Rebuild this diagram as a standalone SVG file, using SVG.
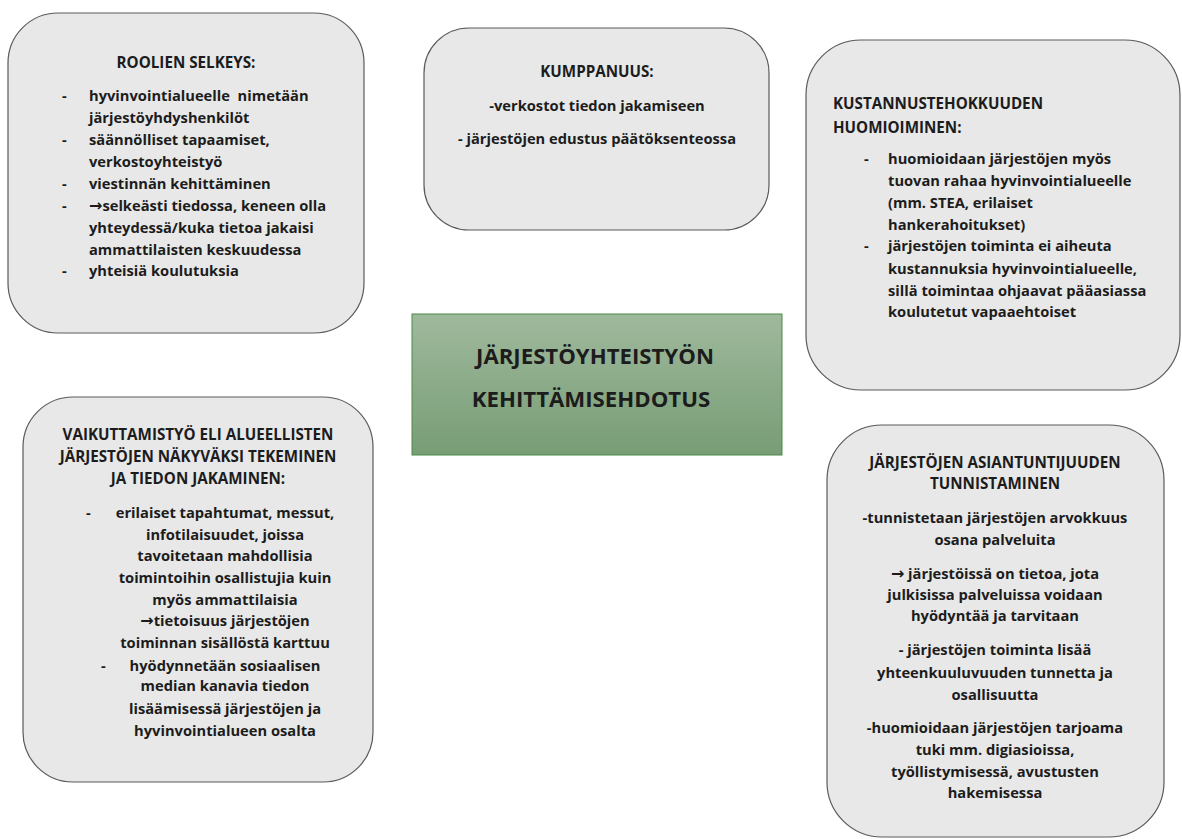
<svg xmlns="http://www.w3.org/2000/svg" width="1182" height="839" viewBox="0 0 1182 839">
<style>
.box{fill:#e8e8e8;stroke:#5a5a5a;stroke-width:1.2}
.t{font-family:"Open Sans","Liberation Sans",Arial,sans-serif;font-weight:bold;font-size:14.7px;fill:#1c1c1c}
.k{font-size:15.2px}
.c{text-anchor:middle}
.h{font-size:22.2px}
.a{font-family:"DejaVu Sans",sans-serif;font-size:16px}
</style>
<defs>
<linearGradient id="g" x1="0" y1="0" x2="0" y2="1">
<stop offset="0" stop-color="#9fb99c"/>
<stop offset="1" stop-color="#789d75"/>
</linearGradient>
</defs>
<rect width="1182" height="839" fill="#ffffff"/>
<g id="roolien">
<rect class="box" x="8" y="13" width="356" height="320" rx="50" ry="50"/>
<text class="t k c" x="186" y="68">ROOLIEN SELKEYS:</text>
<text class="t" x="62" y="101">-</text><text class="t" x="89" y="101" xml:space="preserve">hyvinvointialueelle  nimetään</text>
<text class="t" x="89" y="123">järjestöyhdyshenkilöt</text>
<text class="t" x="62" y="145">-</text><text class="t" x="89" y="145">säännölliset tapaamiset,</text>
<text class="t" x="89" y="167">verkostoyhteistyö</text>
<text class="t" x="62" y="189">-</text><text class="t" x="89" y="189">viestinnän kehittäminen</text>
<text class="t" x="62" y="211">-</text><text class="t" x="89" y="211"><tspan class="a">→</tspan>selkeästi tiedossa, keneen olla</text>
<text class="t" x="89" y="233">yhteydessä/kuka tietoa jakaisi</text>
<text class="t" x="89" y="255">ammattilaisten keskuudessa</text>
<text class="t" x="62" y="276">-</text><text class="t" x="89" y="276">yhteisiä koulutuksia</text>
</g>
<g id="kumppanuus">
<rect class="box" x="424" y="28" width="345" height="202" rx="45" ry="45"/>
<text class="t k c" x="597" y="77">KUMPPANUUS:</text>
<text class="t c" x="597" y="111">-verkostot tiedon jakamiseen</text>
<text class="t c" x="597" y="144">- järjestöjen edustus päätöksenteossa</text>
</g>
<g id="kustannus">
<rect class="box" x="806" y="40" width="374" height="350" rx="55" ry="55"/>
<text class="t k" x="833" y="109">KUSTANNUSTEHOKKUUDEN</text>
<text class="t k" x="833" y="133">HUOMIOIMINEN:</text>
<text class="t" x="864" y="164">-</text><text class="t" x="888" y="164">huomioidaan järjestöjen myös</text>
<text class="t" x="888" y="186">tuovan rahaa hyvinvointialueelle</text>
<text class="t" x="888" y="208">(mm. STEA, erilaiset</text>
<text class="t" x="888" y="230">hankerahoitukset)</text>
<text class="t" x="864" y="251">-</text><text class="t" x="888" y="251">järjestöjen toiminta ei aiheuta</text>
<text class="t" x="888" y="274">kustannuksia hyvinvointialueelle,</text>
<text class="t" x="888" y="296">sillä toimintaa ohjaavat pääasiassa</text>
<text class="t" x="888" y="317">koulutetut vapaaehtoiset</text>
</g>
<g id="keskus">
<rect x="412" y="314" width="370" height="141" fill="url(#g)" stroke="#4c8a4a" stroke-width="1"/>
<text class="t c h" x="595" y="364">JÄRJESTÖYHTEISTYÖN</text>
<text class="t c h" x="591" y="407">KEHITTÄMISEHDOTUS</text>
</g>
<g id="vaikuttamistyo">
<rect class="box" x="23" y="397" width="350" height="385" rx="50" ry="50"/>
<text class="t k c" x="198" y="440">VAIKUTTAMISTYÖ ELI ALUEELLISTEN</text>
<text class="t k c" x="198" y="462">JÄRJESTÖJEN NÄKYVÄKSI TEKEMINEN</text>
<text class="t k c" x="198" y="484">JA TIEDON JAKAMINEN:</text>
<text class="t" x="86" y="518">-</text>
<text class="t c" x="225" y="518">erilaiset tapahtumat, messut,</text>
<text class="t c" x="225" y="540">infotilaisuudet, joissa</text>
<text class="t c" x="225" y="561">tavoitetaan mahdollisia</text>
<text class="t c" x="225" y="583">toimintoihin osallistujia kuin</text>
<text class="t c" x="225" y="605">myös ammattilaisia</text>
<text class="t c" x="225" y="626"><tspan class="a">→</tspan>tietoisuus järjestöjen</text>
<text class="t c" x="225" y="648">toiminnan sisällöstä karttuu</text>
<text class="t" x="101" y="671">-</text>
<text class="t c" x="225" y="671">hyödynnetään sosiaalisen</text>
<text class="t c" x="225" y="691">median kanavia tiedon</text>
<text class="t c" x="225" y="714">lisäämisessä järjestöjen ja</text>
<text class="t c" x="225" y="736">hyvinvointialueen osalta</text>
</g>
<g id="asiantuntijuus">
<rect class="box" x="827" y="425" width="337" height="412" rx="55" ry="55"/>
<text class="t k c" x="995" y="468">JÄRJESTÖJEN ASIANTUNTIJUUDEN</text>
<text class="t k c" x="995" y="489">TUNNISTAMINEN</text>
<text class="t c" x="995" y="523">-tunnistetaan järjestöjen arvokkuus</text>
<text class="t c" x="995" y="545">osana palveluita</text>
<text class="t c" x="995" y="579"><tspan class="a">→</tspan> järjestöissä on tietoa, jota</text>
<text class="t c" x="995" y="600">julkisissa palveluissa voidaan</text>
<text class="t c" x="995" y="621">hyödyntää ja tarvitaan</text>
<text class="t c" x="995" y="655">- järjestöjen toiminta lisää</text>
<text class="t c" x="995" y="678">yhteenkuuluvuuden tunnetta ja</text>
<text class="t c" x="995" y="700">osallisuutta</text>
<text class="t c" x="995" y="733">-huomioidaan järjestöjen tarjoama</text>
<text class="t c" x="995" y="755">tuki mm. digiasioissa,</text>
<text class="t c" x="995" y="777">työllistymisessä, avustusten</text>
<text class="t c" x="995" y="798">hakemisessa</text>
</g>
<g id="connectors"></g>
</svg>
